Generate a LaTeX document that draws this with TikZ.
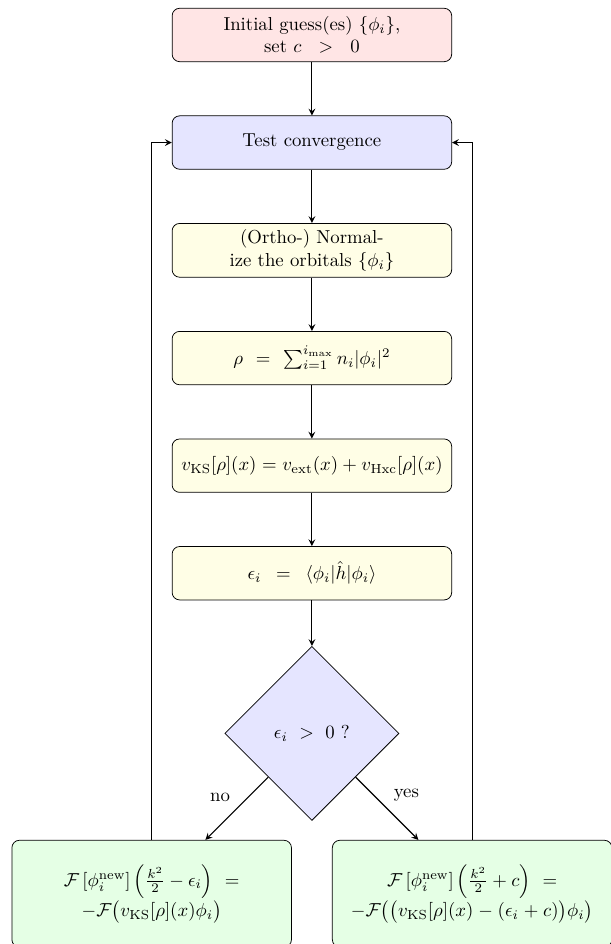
\documentclass[tikz,border=0pt]{standalone}
\usepackage{amsmath}
\usepackage{amssymb}
\usetikzlibrary{positioning,calc,shapes.geometric,arrows}

\tikzset{
  box/.style={rectangle, draw, rounded corners, text width=5cm, minimum height=1cm, align=center},
  startbox/.style={box, fill=red!10},
  testbox/.style={box, fill=blue!10},
  calcbox/.style={box, fill=yellow!10},
  updatebox/.style={box, fill=green!10, minimum height=2cm},
  decision/.style={diamond, draw, fill=blue!10, aspect=1, minimum width=3.26cm, minimum height=3.26cm, inner sep=0pt},
  line/.style={draw, semithick, -stealth},
}

\begin{document}
\begin{tikzpicture}
 \useasboundingbox (-5.84,-17.02) rectangle (5.60,0.655);
 \node[startbox] (init) at (0,0) {Initial guess(es) $\{\phi_i\}$,\\ set $c > 0$};
 \node[testbox, below=1cm of init] (test) {Test convergence};
 \node[calcbox, below=1cm of test] (norm) {(Ortho-) Normal-\\ize the orbitals $\{\phi_i\}$};
 \node[calcbox, below=1cm of norm] (dens) {$\rho = \sum_{i=1}^{i_{\max}} n_i|\phi_i|^2$};
 \node[calcbox, below=1cm of dens] (pot) {$v_{\mathrm{KS}}[\rho](x) = v_{\mathrm{ext}}(x) + v_{\mathrm{Hxc}}[\rho](x)$};
 \node[calcbox, below=1cm of pot] (eps) {$\epsilon_i = \langle\phi_i|\hat{h}|\phi_i\rangle$};
 \node[decision] at ($(eps)+(0,-3cm)$) (dia) {$\epsilon_i \ > \ 0$ ?};
 % the two updates
 \node[updatebox] at ($(dia)+(-3cm,-3cm)$) (upno) {$\mathcal{F}\left[\phi_i^{\text{new}}\right]\left(\frac{k^2}{2}-\epsilon_i\right) =$\\ $-\mathcal{F}\big(v_{\mathrm{KS}}[\rho](x)\phi_i\big)$};
 \node[updatebox] at ($(dia)+(3cm,-3cm)$) (upyes) {$\mathcal{F}\left[\phi_i^{\text{new}}\right]\left(\frac{k^2}{2}+c\right) =$\\ $-\mathcal{F}\big(\big(v_{\mathrm{KS}}[\rho](x)-(\epsilon_i+c)\big)\phi_i\big)$};
 %
 \draw[line] (init) -- (test);
 \draw[line] (test) -- (norm);
 \draw[line] (norm) -- (dens);
 \draw[line] (dens) -- (pot);
 \draw[line] (pot) -- (eps);
 \draw[line] (eps) -- (dia);
 \draw[line] (dia) -- node[above left] {no} (upno);
 \draw[line] (dia) -- node[above right] {yes} (upyes);
 \draw[line] (upno.north) |- (test.west);
 \draw[line] (upyes.north) |- (test.east);
\end{tikzpicture}
\end{document}
